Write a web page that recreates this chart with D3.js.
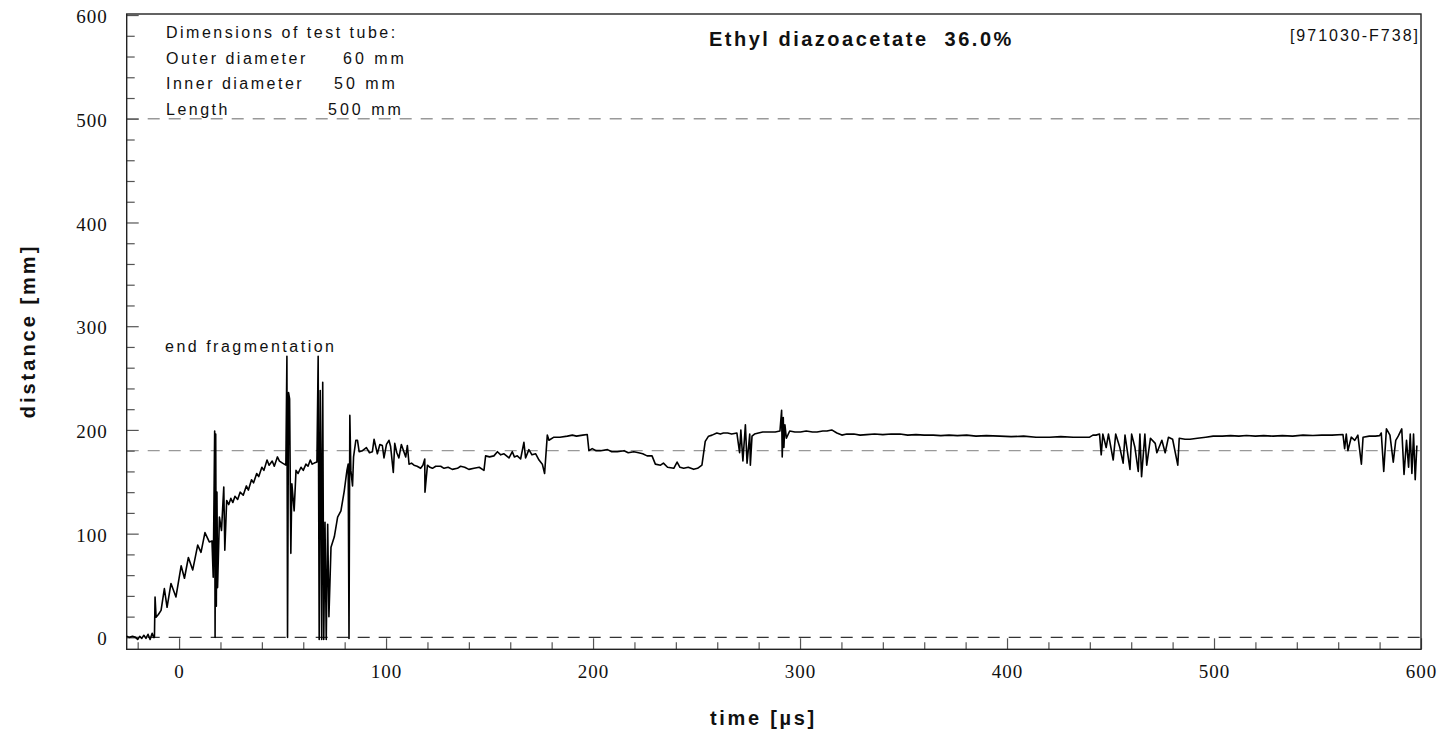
<!DOCTYPE html>
<html>
<head>
<meta charset="utf-8">
<script src="https://cdn.jsdelivr.net/npm/d3@7"></script>
<style>
  html, body { margin: 0; padding: 0; background: #fff; }
  svg { display: block; }
  text { white-space: pre; }
</style>
</head>
<body>
<svg id="chart" width="1445" height="737"></svg>
<script>
// ---------------- data ----------------
const chartTitle = "Ethyl diazoacetate  36.0%";
const chartId = "[971030-F738]";
const xLabel = "time [µs]";
const yLabel = "distance [mm]";
const xTicks = [0, 100, 200, 300, 400, 500, 600];
const yTicks = [0, 100, 200, 300, 400, 500, 600];
const refLines = [0, 180, 500];
const tubeLabels = ["Dimensions of test tube:", "Outer diameter", "Inner diameter", "Length"];
const tubeValues = ["", "60 mm", "50 mm", "500 mm"];
const noteText = "end fragmentation";

// [time µs, distance mm]
const trace = [
  [-25.3,1],[-24,0],[-22.5,1],[-21,0],[-20,-2],[-19,1],[-18,-1],[-17,2],[-16,-1],[-15,3],[-14,-2],[-13,4],[-12.3,0],[-11.9,0],
  [-11.6,38.8],[-11.1,19.5],[-10,22],[-8.7,26],[-7.1,47],[-5.8,29],[-3.9,52],[-1.5,39],[1,69],[2.6,57],[4.5,77],[6.6,65],
  [9,89],[10.6,82],[12.5,101],[14.6,92],[15.9,93],
  [16.5,58],[17.2,199],[17.4,0],[17.7,196],[18.0,30],[18.3,140],[18.6,48],[19.5,116],[20.5,103],[21.6,145],[22.1,84],[23,132],
  [24,128],[25,134],[26,130],[27,136],[28.3,133],[29.5,140],[31,137],[32.5,146],[33.5,142],[35,152],[36,149],[37.5,158],
  [38.5,155],[40,164],[41,161],[42.5,171],[43.5,166],[45,170],[46,165],[47.5,174],[48.5,170],[50,168],[51.6,166],
  [52.1,271],[52.4,0],[52.9,236],[53.4,230],[54,81],[54.5,148],[55.6,122],[56.5,161],[57.5,158],[58.9,164],[60,161],[61.3,167],
  [62.3,165],[63.4,171],[64.3,167],[65.3,168],[66.6,169],
  [67.2,271],[67.7,-2],[68.2,238],[68.5,175],[68.9,-2],[69.4,246],[69.9,-2],[70.5,111],[71.1,-2],[71.8,109],[72.4,20],
  [73.4,87],[75,97],[76.6,116],[78.2,122],[79.8,141],[81.1,161],[81.7,167],
  [82.1,-1],[82.5,214],[83,161],[83.8,146],[84.3,174],[85.4,190],[86.2,190],[87,179],[88.6,180],[90.5,183],[92,178],[93.4,179],
  [94.2,191],[95.8,177],[97,186],[98.2,185],[99,173],[100.2,186],[101.4,190],[102.2,184],[103.5,159],[104.2,187],[105.2,178],
  [106.2,173],[107.4,186],[108.6,179],[109.5,174],[110.3,185],[111.1,167],
  [112.3,168],[113.5,166],[115,165],[116.7,163],[117.8,166],[118.7,172],[118.8,140],[120,166],[121.2,164],[122.4,163],[124,165],
  [126.4,165],[128,163],[130,164],[132,162],[134.5,163],[136,165],[138,164],[140,162],[142.5,163],[145,164],[147.3,161],
  [148.1,175],[150,174],[152.1,175],[153.8,179],[155.4,176],[157,177],[159.4,173],[161,179],[162,174],[163.4,175],[165,172],
  [166.6,188],[167.4,173],[169,181],[170.5,176],[172.3,177],[173.9,171],[175.5,167],[176.6,158],
  [177.9,195],[178.7,190],[181.1,193],[184,193],[187.6,194],[190,195],[192,194],[195,195],[197.2,195.6],
  [198,180],[199.6,182],[201.5,180],[203.7,180],[207,181],[209,179],[211.7,179],[215,180],[217,178],[219.7,179],[222,178],
  [224,177],[226.1,175],[228.5,175],[230.1,167],[232.6,166],[234,168],[236,164],[239,163],[240.6,169],[242,164],[243.8,163],
  [246,164],[248.6,162],[250.5,163],[252.6,166],
  [254.2,189],[255.8,194],[257.5,195],[259.8,197],[261.5,196],[263,197],[265,197],[267,196],[269.5,197],
  [270.8,178],[271.4,200],[272.4,170],[273.6,205],[274.4,168],[275.7,196],[276,166],[276.8,194],[278,196],[279.9,197],
  [282,198],[285.5,198],[288,198],[290.3,199],
  [291.1,219],[291.4,174],[291.9,212],[292.2,183],[292.7,205],[293.4,192],[295,199],[297.5,198],[300.2,198],[303,199],
  [306,198],[308.2,198],[311,199],[313,199],[315.3,200],[317.8,197],[320.2,195],[322.6,196],[326,196],[329,195],[332.2,195.5],
  [336,196],[340,195.5],[344,196],[348.3,196],[352,195],[356,195.5],[360,195],[364.4,195],[368,194.5],[372,195],[376,194.5],
  [380.5,195],[385,194],[390,194.5],[396.5,194],[402,193.5],[408,194],[414,193],[420.6,193],[426,193.5],[432,193],[439.9,193],
  [441.5,195],[443,195],
  [444.7,196],[445.5,176],[446.3,196],[447.9,183],[449,196],[451.3,171],[452.5,196],[454.5,183],[456.1,168],[457,195],
  [459.4,162],[460.2,196],[461.8,183],[463.4,160],[464.2,196],[465,155],[466.6,196],[467.5,166],[469.3,192],[471.6,187],
  [472.4,178],[474.8,190],[476.4,178],[478,193],[480,191],[482.5,166],[483.2,192],[486,191],[488.4,191],
  [492,192],[496,193],[499.6,194],[504,194],[508,194.5],[512,194],[515.7,194.6],[520,194],[524,194.5],[528.5,194],
  [533,194.5],[538,194],[543,195],[547.8,194.6],[552,195],[557,195],[562.3,195.6],
  [563.1,182],[563.9,196],[564.7,180],[566.3,193],[568,190],[569.5,195],[571.2,167],[572,193],[575,194],[578,194],[580,194.5],
  [580.8,197],[582,160],[583.3,201],[585,195],[586.6,169],[587.8,190],[589,194],[590.7,201],[591.8,157],[593,190],[594,164],
  [594.8,196],[595.6,158],[596.4,196],[597.2,152],[598,185]
];

// ---------------- layout ----------------
const plot = { left: 126.7, right: 1421, top: 14, bottom: 649.3 };

const x = d3.scaleLinear().domain([-25.3, 600]).range([plot.left, plot.right]);
const y = d3.scaleLinear().domain([-11.5, 601]).range([plot.bottom, plot.top]);

const svg = d3.select("#chart");

// reference dashed lines
svg.append("g").selectAll("line").data(refLines).join("line")
  .attr("x1", plot.left).attr("x2", plot.right)
  .attr("y1", d => y(d)).attr("y2", d => y(d))
  .attr("stroke", d => d === 0 ? "#333" : "#999")
  .attr("stroke-width", 1.3)
  .attr("stroke-dasharray", "12,9");

// minor / major ticks
const minorX = d3.range(-20, 601, 20).filter(v => v % 100 !== 0);
const minorY = d3.range(20, 601, 20).filter(v => v % 100 !== 0);

const gxMinor = svg.append("g").attr("transform", `translate(0,${plot.bottom})`)
  .call(d3.axisBottom(x).tickValues(minorX).tickSize(-7).tickFormat(""));
const gxMajor = svg.append("g").attr("transform", `translate(0,${plot.bottom})`)
  .call(d3.axisBottom(x).tickValues(xTicks).tickSize(-11).tickPadding(15).tickFormat(d3.format("d")));
const gyMinor = svg.append("g").attr("transform", `translate(${plot.left},0)`)
  .call(d3.axisLeft(y).tickValues(minorY).tickSize(-8).tickFormat(""));
const gyMajor = svg.append("g").attr("transform", `translate(${plot.left},0)`)
  .call(d3.axisLeft(y).tickValues(yTicks).tickSize(-12).tickPadding(19).tickFormat(d3.format("d")));

[gxMinor, gxMajor, gyMinor, gyMajor].forEach(g => {
  g.select(".domain").remove();
  g.selectAll(".tick line").attr("stroke", "#555").attr("stroke-width", 1.2);
  g.selectAll(".tick text")
    .style("font-family", '"Liberation Serif", "Times New Roman", serif')
    .style("font-size", "19px")
    .style("letter-spacing", "1px")
    .attr("fill", "#111");
});
gyMajor.selectAll(".tick text").attr("dy", "0.4em");

// frame
svg.append("rect")
  .attr("x", plot.left).attr("y", plot.top)
  .attr("width", plot.right - plot.left).attr("height", plot.bottom - plot.top)
  .attr("fill", "none").attr("stroke", "#222").attr("stroke-width", 1.4);

// data line
svg.append("path")
  .datum(trace)
  .attr("fill", "none")
  .attr("stroke", "#000")
  .attr("stroke-width", 1.6)
  .attr("stroke-linejoin", "round")
  .attr("d", d3.line().x(d => x(d[0])).y(d => y(d[1])));

// texts
const txt = (s, px, py, opts = {}) => svg.append("text")
  .attr("x", px).attr("y", py)
  .attr("text-anchor", opts.anchor || "start")
  .style("font-family", '"Liberation Sans", Arial, sans-serif')
  .style("font-size", (opts.size || 16) + "px")
  .style("font-weight", opts.bold ? "bold" : "normal")
  .style("letter-spacing", (opts.ls == null ? 2.5 : opts.ls) + "px")
  .attr("fill", "#111")
  .text(s);

const tubeY = [38, 64, 89, 115];
tubeLabels.forEach((s, i) => txt(s, 166, tubeY[i]));
const valX = [342, 343, 334, 328];
tubeValues.forEach((s, i) => { if (s) txt(s, valX[i], tubeY[i], { ls: 3 }); });

txt(noteText, 165, 352);
txt(chartTitle, 709, 46, { size: 20, bold: true, ls: 2.5 });
txt(chartId, 1420, 41, { size: 16, anchor: "end", ls: 2 });
txt(xLabel, 710, 725, { size: 20, bold: true, ls: 2.7 });

svg.append("text")
  .attr("transform", `translate(35,331) rotate(-90)`)
  .attr("text-anchor", "middle")
  .style("font-family", '"Liberation Sans", Arial, sans-serif')
  .style("font-size", "20px")
  .style("font-weight", "bold")
  .style("letter-spacing", "3px")
  .attr("fill", "#111")
  .text(yLabel);
</script>
</body>
</html>
